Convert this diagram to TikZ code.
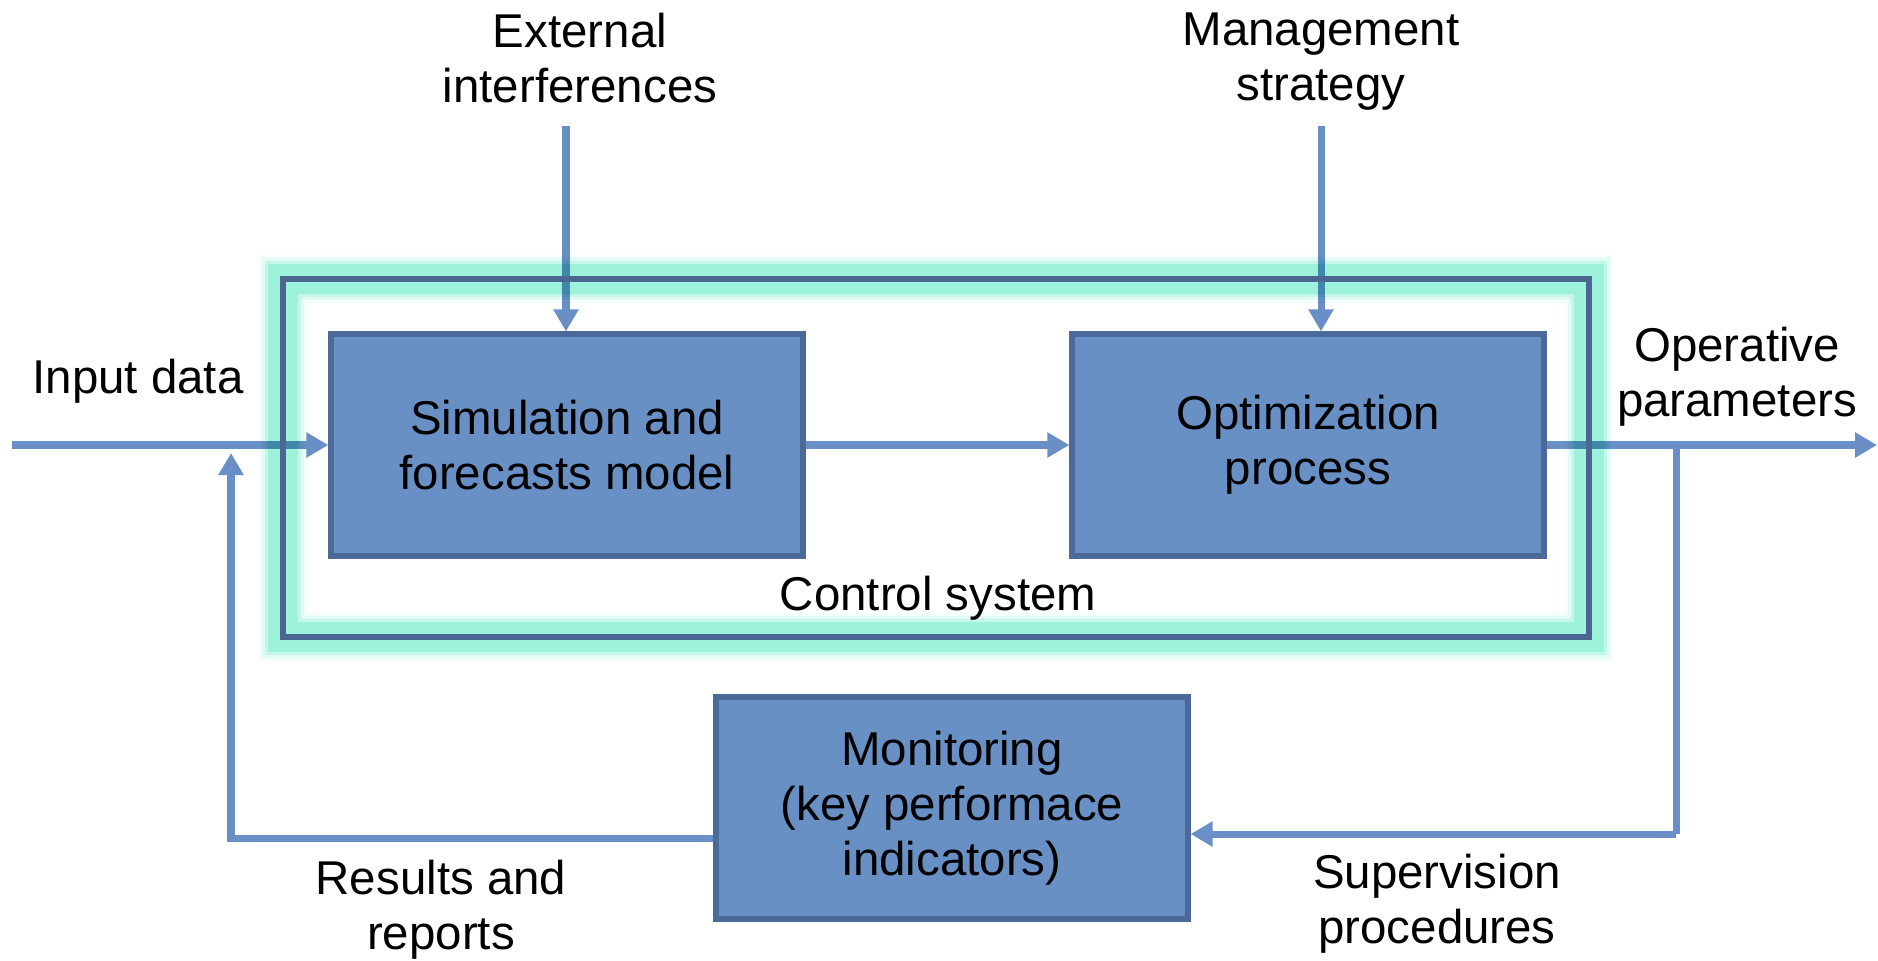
\documentclass[tikz,border=0pt]{standalone}
\usepackage{fontspec}
\setmainfont{Liberation Sans}
\usepackage{xcolor}
\usetikzlibrary{arrows.meta}

\definecolor{flowcol}{HTML}{6A8FC6}
\definecolor{boxfill}{HTML}{6990C5}
\definecolor{boxline}{HTML}{4B6A99}
\definecolor{ctrlline}{HTML}{4A6691}
\definecolor{glowcol}{HTML}{9DF2DB}
\newcommand{\lblfont}{\fontsize{13.5}{15.7}\selectfont}

\begin{document}
\begin{tikzpicture}[x=0.1mm, y=-0.1mm,
  box/.style = {draw=boxline, fill=boxfill, line width=1.5pt, minimum width=4.72cm, minimum height=2.22cm, align=center, font=\lblfont},
  lbl/.style = {align=center, font=\lblfont},
  flow/.style = {draw=flowcol, line width=2pt, -{Triangle[width=0.24cm,length=0.22cm]}},
  flowline/.style = {draw=flowcol, line width=2pt}]
  \useasboundingbox (0,0) rectangle (1878,960);

  % blocks
  \node[minimum width=13.05cm, minimum height=3.57cm] (ctrl) at (936,458) {};
  \node[box] (sim) at (567,445) {Simulation and\\forecasts model};
  \node[box] (opt) at (1308,445) {Optimization\\process};
  \node[box] (mon) at (952,808) {Monitoring\\(key performace\\indicators)};

  % free ends
  \coordinate (in) at (12,445);
  \coordinate (ext) at (566,126);
  \coordinate (mgt) at (1321,126);
  \coordinate (out) at (1877,445);
  \coordinate (tap) at (1676,445);
  \coordinate (sup) at (1676,834);
  \coordinate (fb) at (231,838);
  \coordinate (fbtop) at (231,453);

  % connectors
  \draw[flow] (in) -- (sim.west);
  \draw[flow] (sim.east) -- (opt.west);
  \draw[flow] (ext) -- (ext |- sim.north);
  \draw[flow] (mgt) -- (mgt |- opt.north);
  \draw[flow] (opt.east) -- (out);
  \draw[flowline] (tap) -- (sup);
  \draw[flow] (sup) -- (sup -| mon.east);
  \draw[flow] (mon.west |- fb) -- (fb) -- (fbtop);

  % glow round the control system: solid core, then fading bands on both sides
  \begin{scope}[blend mode=multiply]
    \draw[glowcol, line width=0.30cm] (ctrl.north west) rectangle (ctrl.south east);
    \foreach \d/\o in {16.5/0.6, 19.5/0.3, 22.5/0.12, -16.5/0.6, -19.5/0.3, -22.5/0.12}
      \draw[glowcol, line width=0.3mm, opacity=\o]
        ([shift={(-\d,-\d)}]ctrl.north west) rectangle ([shift={(\d,\d)}]ctrl.south east);
  \end{scope}
  \draw[ctrlline, line width=1.6pt] (ctrl.north west) rectangle (ctrl.south east);

  % redraw the blocks over the glow
  \node[box] at (sim) {Simulation and\\forecasts model};
  \node[box] at (opt) {Optimization\\process};

  % labels
  \node[lbl] (extlbl) at (580,58) {External\\interferences};
  \node[lbl] (mgtlbl) at (1321,62) {Management\\strategy};
  \node[lbl] (inlbl) at (138,381) {Input data};
  \node[lbl] (outlbl) at (1737,377) {Operative\\parameters};
  \node[lbl] (ctrllbl) at (938,598) {Control system};
  \node[lbl] (reslbl) at (441,910) {Results and\\reports};
  \node[lbl] (suplbl) at (1437,904) {Supervision\\procedures};
\end{tikzpicture}
\end{document}
